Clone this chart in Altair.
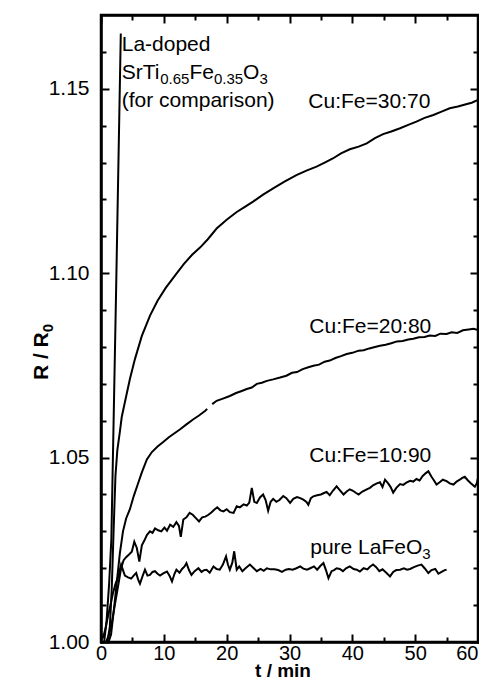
import altair as alt
import pandas as pd

FONT = "Liberation Sans"

# ---------------- data ----------------
t_la = [0.5, 0.9, 1.3, 1.65, 2.4, 3.15]
r_la = [1.000, 1.006, 1.016, 1.028, 1.095, 1.165]

t_3070 = [1.0, 1.4, 1.7, 2.0, 2.3, 2.6, 3.0, 3.3, 3.8, 4.6, 5.4, 6.5, 7.8, 9.0, 10.3, 11.8, 13.2, 14.5,
          15.8, 17.0, 18.4, 20.0, 21.6, 22.9, 24.2, 25.8, 27.4, 29.2, 31.1, 32.7, 34.3, 35.6, 36.9,
          38.2, 39.6, 41.0, 42.3, 43.6, 44.9, 46.2, 47.6, 48.9, 50.2, 51.5, 52.9, 54.2, 55.5, 56.8,
          58.1, 59.0, 60.0]
r_3070 = [1.000, 1.004, 1.014, 1.030, 1.045, 1.052, 1.057, 1.061, 1.065, 1.0713, 1.0767, 1.0830,
          1.0885, 1.0925, 1.0960, 1.0994, 1.1025, 1.1050, 1.1070, 1.1092, 1.1121, 1.1145, 1.1166,
          1.1180, 1.1194, 1.1213, 1.1230, 1.1248, 1.1266, 1.1278, 1.1289, 1.1300, 1.1311, 1.1325,
          1.1336, 1.1343, 1.1352, 1.1366, 1.1377, 1.1384, 1.1393, 1.1402, 1.1411, 1.1421, 1.1429,
          1.1438, 1.1447, 1.1452, 1.1458, 1.1462, 1.1470]

t_2080a = [1.2, 1.6, 2.0, 2.5, 3.0, 3.5, 4.0, 4.6, 5.2, 5.8, 6.5, 7.3, 8.1, 9.0, 9.9, 10.8, 11.7,
           12.6, 13.6, 14.7, 15.6, 16.6, 16.9]
r_2080a = [1.000, 1.002, 1.008, 1.016, 1.024, 1.030, 1.0335, 1.0360, 1.0395, 1.0425, 1.0460, 1.0495,
           1.0515, 1.0530, 1.0542, 1.0555, 1.0566, 1.0577, 1.0590, 1.0604, 1.0614, 1.0627, 1.0632]
t_2080b = [17.7, 18.4, 19.4, 20.5, 21.5, 22.3, 23.2, 24.0, 24.8, 25.6, 26.4, 27.4, 28.5, 29.5, 30.4,
           31.2, 32.1, 33.0, 33.8, 34.7, 35.6, 36.4, 37.3, 38.2, 39.1, 40.0, 41.0, 41.8, 42.7, 43.6,
           44.4, 45.3, 46.2, 47.1, 48.0, 48.9, 49.7, 50.6, 51.5, 52.3, 53.2, 54.0, 55.0, 55.8, 56.7,
           57.6, 58.5, 59.3, 60.0]
r_2080b = [1.0645, 1.0654, 1.0660, 1.0667, 1.0675, 1.0680, 1.0686, 1.0690, 1.0700, 1.0703, 1.0708,
           1.0712, 1.0717, 1.0722, 1.0730, 1.0732, 1.0740, 1.0745, 1.0749, 1.0752, 1.0760, 1.0763,
           1.0770, 1.0775, 1.0781, 1.0784, 1.0790, 1.0791, 1.0796, 1.0800, 1.0803, 1.0806, 1.0810,
           1.0815, 1.0816, 1.0820, 1.0822, 1.0826, 1.0827, 1.0831, 1.0830, 1.0836, 1.0835, 1.0840,
           1.0838, 1.0845, 1.0847, 1.0849, 1.0846]

t_1090 = [0.8, 1.3, 1.8, 2.3, 2.8, 3.2, 3.6, 4.0, 4.5, 4.9, 5.3, 5.7, 6.1, 6.5, 6.9, 7.3, 7.8, 8.2,
          8.6, 9.1, 9.6, 10.1, 10.5, 11.0, 11.5, 12.0, 12.4, 12.7, 13.1, 13.6, 14.1, 14.6, 15.1, 15.6,
          16.1, 16.6, 17.1, 17.6, 18.1, 18.5, 19.0, 19.5, 20.0, 20.5, 21.1, 21.6, 22.1, 22.7, 23.2,
          23.6, 24.0, 24.4, 24.8, 25.3, 25.8, 26.2, 26.6, 27.0, 27.4, 27.9, 28.4, 29.0, 29.5, 30.1,
          30.6, 31.2, 31.7, 32.2, 32.7, 33.0, 33.4, 33.8, 34.4, 35.0, 35.5, 35.9, 36.4, 36.9, 37.5,
          38.0, 38.6, 39.1, 39.6, 40.1, 40.6, 41.0, 41.6, 42.3, 42.8, 43.3, 43.9, 44.4, 44.8, 45.2,
          45.7, 46.1, 46.5, 47.0, 47.6, 48.1, 48.6, 49.2, 49.7, 50.2, 50.7, 51.2, 51.7, 52.1, 52.6,
          53.0, 53.4, 53.9, 54.4, 55.0, 55.5, 56.1, 56.6, 57.1, 57.5, 57.9, 58.4, 58.9, 59.5, 59.8,
          60.0]
r_1090 = [1.000, 1.002, 1.006, 1.011, 1.016, 1.020, 1.0222, 1.0230, 1.0238, 1.0245, 1.0272, 1.0255,
          1.0218, 1.0262, 1.0275, 1.0290, 1.0300, 1.0296, 1.0308, 1.0303, 1.0300, 1.0310, 1.0302,
          1.0318, 1.0312, 1.0325, 1.0315, 1.0285, 1.0332, 1.0338, 1.0350, 1.0345, 1.0336, 1.0327,
          1.0338, 1.0340, 1.0345, 1.0352, 1.0360, 1.0365, 1.0357, 1.0354, 1.0360, 1.0352, 1.0350,
          1.0368, 1.0365, 1.0373, 1.0370, 1.0378, 1.0418, 1.0380, 1.0377, 1.0392, 1.0400, 1.0385,
          1.0356, 1.0380, 1.0388, 1.0380, 1.0385, 1.0396, 1.0390, 1.0377, 1.0388, 1.0393, 1.0390,
          1.0386, 1.0380, 1.0372, 1.0390, 1.0395, 1.0398, 1.0400, 1.0404, 1.0407, 1.0398, 1.0410,
          1.0422, 1.0412, 1.0400, 1.0408, 1.0414, 1.0410, 1.0404, 1.0400, 1.0408, 1.0414, 1.0418,
          1.0425, 1.0430, 1.0433, 1.0420, 1.0440, 1.0430, 1.0420, 1.0405, 1.0418, 1.0428, 1.0426,
          1.0432, 1.0437, 1.0435, 1.0442, 1.0438, 1.0450, 1.0458, 1.0463, 1.0448, 1.0438, 1.0427,
          1.0433, 1.0440, 1.0436, 1.0430, 1.0427, 1.0435, 1.0440, 1.0445, 1.0448, 1.0438, 1.0430,
          1.0421, 1.0430, 1.0445]

t_pure = [0.3, 0.7, 1.1, 1.5, 1.9, 2.3, 2.7, 3.2, 3.5, 3.8, 4.3, 4.8, 5.2, 5.6, 5.9, 6.2, 6.6, 7.0,
          7.4, 7.8, 8.2, 8.6, 9.0, 9.4, 9.9, 10.5, 10.9, 11.3, 11.7, 12.0, 12.5, 12.9, 13.3, 13.6,
          14.0, 14.4, 14.9, 15.5, 16.0, 16.4, 16.8, 17.3, 17.9, 18.4, 18.9, 19.4, 19.9, 20.2, 20.5,
          20.9, 21.2, 21.6, 22.0, 22.5, 23.0, 23.7, 24.3, 24.8, 25.4, 25.9, 26.4, 27.0, 27.6, 28.2,
          28.8, 29.4, 29.9, 30.5, 31.1, 31.7, 32.2, 32.8, 33.3, 33.9, 34.4, 34.9, 35.4, 35.8, 36.2,
          36.7, 37.1, 37.5, 38.0, 38.5, 39.0, 39.6, 40.2, 40.7, 41.2, 41.8, 42.4, 42.8, 43.3, 43.8,
          44.3, 44.8, 45.4, 46.0, 46.5, 47.0, 47.6, 48.2, 48.7, 49.2, 49.8, 50.4, 51.0, 51.5, 52.1,
          52.6, 53.2, 53.7, 54.2, 54.7, 55.0]
r_pure = [1.0010, 1.0035, 1.0069, 1.0100, 1.0132, 1.0157, 1.0175, 1.0210, 1.0195, 1.0180, 1.0175,
          1.0172, 1.0180, 1.0187, 1.0170, 1.0158, 1.0178, 1.0196, 1.0180, 1.0182, 1.0190, 1.0192,
          1.0185, 1.0180, 1.0186, 1.0191, 1.0180, 1.0164, 1.0185, 1.0196, 1.0188, 1.0198, 1.0205,
          1.0214, 1.0195, 1.0182, 1.0192, 1.0200, 1.0190, 1.0195, 1.0196, 1.0188, 1.0205, 1.0198,
          1.0196, 1.0210, 1.0232, 1.0210, 1.0196, 1.0215, 1.0246, 1.0196, 1.0205, 1.0192, 1.0200,
          1.0210, 1.0200, 1.0192, 1.0198, 1.0193, 1.0200, 1.0197, 1.0197, 1.0195, 1.0190, 1.0196,
          1.0198, 1.0196, 1.0200, 1.0205, 1.0199, 1.0196, 1.0200, 1.0205, 1.0196, 1.0206, 1.0214,
          1.0195, 1.0173, 1.0192, 1.0195, 1.0200, 1.0198, 1.0192, 1.0200, 1.0205, 1.0198, 1.0196,
          1.0191, 1.0200, 1.0197, 1.0204, 1.0210, 1.0203, 1.0192, 1.0197, 1.0188, 1.0178, 1.0190,
          1.0195, 1.0196, 1.0200, 1.0196, 1.0198, 1.0203, 1.0207, 1.0210, 1.0200, 1.0187, 1.0195,
          1.0198, 1.0185, 1.0190, 1.0195, 1.0196]

x_major = [0, 10, 20, 30, 40, 50, 60]
x_minor = [5, 15, 25, 35, 45, 55]
y_major = [1.00, 1.05, 1.10, 1.15]
y_minor = [1.01, 1.02, 1.03, 1.04, 1.06, 1.07, 1.08, 1.09, 1.11, 1.12, 1.13, 1.14, 1.16]

# annotation labels: (pieces, anchor t, anchor R); pieces are (text, is_subscript)
labels = [
    ([("La-doped", False)], 3.3, 1.1602),
    ([("SrTi", False), ("0.65", True), ("Fe", False), ("0.35", True), ("O", False), ("3", True)], 3.3, 1.1526),
    ([("(for comparison)", False)], 3.3, 1.1450),
    ([("Cu:Fe=30:70", False)], 33.0, 1.1447),
    ([("Cu:Fe=20:80", False)], 33.15, 1.0838),
    ([("Cu:Fe=10:90", False)], 33.15, 1.0487),
    ([("pure LaFeO", False), ("3", True)], 33.3, 1.0239),
]

# ---------------- build table ----------------
rows = []
for key, ts, rs in [("la", t_la, r_la), ("c3070", t_3070, r_3070), ("c2080a", t_2080a, r_2080a),
                    ("c2080b", t_2080b, r_2080b), ("c1090", t_1090, r_1090), ("pure", t_pure, r_pure)]:
    for t, r in zip(ts, rs):
        rows.append({"key": key, "t": t, "R": r})
df = pd.DataFrame(rows)

# Arial-compatible advance widths (per 1000 em)
W_REG = {"S": 667, "r": 333, "T": 611, "i": 222, ".": 278, "F": 611, "e": 556, "O": 778, "L": 556,
         "a": 556, "p": 556, "u": 556, " ": 278, "R": 722, "/": 278}
W_BOLD = {"R": 722, " ": 278, "/": 278}


def text_width(s, fs, table):
    return sum(table.get(ch, 556) for ch in s) * fs / 1000.0


FS = 21
FS_TICK = 20
FS_SUB = 15
SUB_DY = 5
PLOT_W = 377
PLOT_H = 627

xscale = alt.Scale(domain=[0, 60], nice=False, zero=False)
yscale = alt.Scale(domain=[1.0, 1.17], nice=False, zero=False)

common_axis = dict(grid=False, domain=False, tickColor="black", tickWidth=2,
                   labelFont=FONT, labelColor="black", title=None)
frame_axis = dict(grid=False, domain=True, domainColor="black", domainWidth=2.5,
                  domainCap="square", ticks=False, labels=False, title=None, offset=0)

ax_bottom = alt.Axis(orient="bottom", values=x_major, offset=-8, tickSize=8, labelFontSize=FS_TICK,
                     labelPadding=1, labelFlush=False, labelOverlap=False,
                     labelAlign={"expr": "datum.value == 60 ? 'right' : 'center'"},
                     **common_axis)
ax_bottom_min = alt.Axis(orient="bottom", values=x_minor, offset=-5, tickSize=5, labels=False,
                         **common_axis)
ax_top = alt.Axis(orient="top", values=x_major, offset=-8, tickSize=8, labels=False, **common_axis)
ax_top_min = alt.Axis(orient="top", values=x_minor, offset=-5, tickSize=5, labels=False,
                      **common_axis)
ax_left = alt.Axis(orient="left", values=y_major, offset=-8, tickSize=8, labelFontSize=FS,
                   labelPadding=12, format=".2f", labelFlush=False, labelOverlap=False,
                   **common_axis)
ax_left_min = alt.Axis(orient="left", values=y_minor, offset=-5, tickSize=5, labels=False,
                       **common_axis)
ax_right = alt.Axis(orient="right", values=y_major, offset=-8, tickSize=8, labels=False,
                    **common_axis)
ax_right_min = alt.Axis(orient="right", values=y_minor, offset=-5, tickSize=5, labels=False,
                        **common_axis)
ax_frame_bottom = alt.Axis(orient="bottom", **frame_axis)
ax_frame_top = alt.Axis(orient="top", **frame_axis)
ax_frame_left = alt.Axis(orient="left", **frame_axis)
ax_frame_right = alt.Axis(orient="right", **frame_axis)

base = alt.Chart(df)

lines = base.mark_line(color="black", strokeWidth=2, clip=True).encode(
    x=alt.X("t:Q", scale=xscale, axis=ax_bottom),
    y=alt.Y("R:Q", scale=yscale, axis=ax_left),
    detail="key:N",
    order="t:Q",
)


def axis_layer(ax_x, ax_y):
    return base.mark_line(opacity=0).encode(
        x=alt.X("t:Q", scale=xscale, axis=ax_x),
        y=alt.Y("R:Q", scale=yscale, axis=ax_y),
        detail="key:N",
    )


layers = [lines,
          axis_layer(ax_bottom_min, ax_left_min),
          axis_layer(ax_top, ax_right),
          axis_layer(ax_top_min, ax_right_min),
          axis_layer(ax_frame_bottom, ax_frame_left),
          axis_layer(ax_frame_top, ax_frame_right)]

# annotation texts
for pieces, t0, r0 in labels:
    dx = 0.0
    for txt, sub in pieces:
        fs = FS_SUB if sub else FS
        layers.append(
            alt.Chart(pd.DataFrame({"t": [t0], "R": [r0], "txt": [txt]})).mark_text(
                align="left", baseline="alphabetic", font=FONT, fontSize=fs, color="black",
                dx=dx, dy=SUB_DY if sub else 0,
            ).encode(
                x=alt.X("t:Q", scale=xscale, axis=None),
                y=alt.Y("R:Q", scale=yscale, axis=None),
                text="txt:N",
            )
        )
        dx += text_width(txt, fs, W_REG)

dummy = pd.DataFrame({"a": [0]})

# x axis title
xtitle = "t / min"
layers.append(alt.Chart(dummy).mark_text(
    align="center", baseline="alphabetic", font=FONT, fontSize=19, fontWeight="bold",
    color="black").encode(x=alt.value(182), y=alt.value(662), text=alt.value(xtitle)))

# y axis title  "R / R0" (rotated, with subscript)
ytitle_main = "R / R"
ytitle_sub = "0"
ytitle_fs = 21
ytitle_sub_fs = 15
main_w = text_width(ytitle_main, ytitle_fs, W_BOLD)
total_w = main_w + text_width(ytitle_sub, ytitle_sub_fs, W_BOLD)
title_cx = -53
title_cy = 337
layers.append(alt.Chart(dummy).mark_text(
    align="left", baseline="alphabetic", angle=270, font=FONT, fontSize=ytitle_fs,
    fontWeight="bold", color="black").encode(
    x=alt.value(title_cx), y=alt.value(title_cy + total_w / 2), text=alt.value(ytitle_main)))
layers.append(alt.Chart(dummy).mark_text(
    align="left", baseline="alphabetic", angle=270, font=FONT, fontSize=ytitle_sub_fs,
    fontWeight="bold", color="black", dx=main_w, dy=SUB_DY).encode(
    x=alt.value(title_cx), y=alt.value(title_cy + total_w / 2), text=alt.value(ytitle_sub)))

chart = alt.layer(*layers).resolve_axis(x="independent", y="independent").properties(
    width=PLOT_W, height=PLOT_H,
    autosize=alt.AutoSizeParams(type="none"),
    padding={"left": 93, "top": 7, "right": 1, "bottom": 40},
).configure(
    font=FONT, background="white",
    view=alt.ViewConfig(stroke="black", strokeWidth=2.5),
)

chart.save("out.html", embed_options={"renderer": "svg", "actions": False})
